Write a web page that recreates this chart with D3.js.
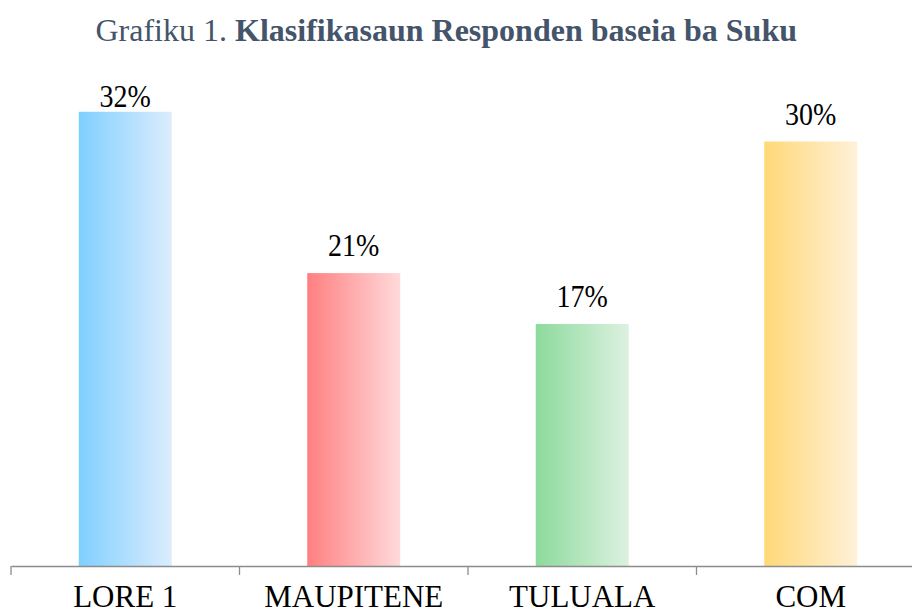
<!DOCTYPE html>
<html><head><meta charset="utf-8">
<script src="https://cdn.jsdelivr.net/npm/d3@7"></script>
<style>html,body{margin:0;padding:0;background:#fff;}svg{display:block;}</style>
</head><body>
<script>
const categories = ["LORE 1", "MAUPITENE", "TULUALA", "COM"];
const values = [32.1, 20.7, 17.1, 30.0];
const valueLabels = ["32%", "21%", "17%", "30%"];
const gradientStops = [["#80cfff", "#dcedfc"], ["#ff7f80", "#ffdadb"], ["#8cda9c", "#ddf1e1"], ["#ffd877", "#fff1d9"]];
const titleNormal = "Grafiku 1. ";
const titleBold = "Klasifikasaun Responden baseia ba Suku";

const FONT = "'Liberation Serif', 'Times New Roman', Times, serif";
const W = 912, H = 614;
const svg = d3.select("body").append("svg").attr("width", W).attr("height", H);
const x = d3.scaleBand().domain(categories).range([11, 925]).paddingInner(0).paddingOuter(0);
const y = d3.scaleLinear().domain([0, 36]).range([566, 566 - 36 * 14.15]);
const plotTop = 85;

const defs = svg.append("defs");
gradientStops.forEach((g, i) => {
  const lg = defs.append("linearGradient").attr("id", "g" + i).attr("x1", "0%").attr("x2", "100%").attr("y1", "0%").attr("y2", "0%");
  lg.append("stop").attr("offset", "0%").attr("stop-color", g[0]);
  lg.append("stop").attr("offset", "100%").attr("stop-color", g[1]);
});

const t = svg.append("text").attr("x", 797).attr("y", 41).attr("text-anchor", "end")
  .style("font-family", FONT).attr("font-size", 32).attr("fill", "#44546a");
t.append("tspan").text(titleNormal);
t.append("tspan").attr("font-weight", "bold").text(titleBold);

const bw = 93;
svg.selectAll("rect.bar").data(values).join("rect").attr("class", "bar")
  .attr("x", (d, i) => x(categories[i]) + x.bandwidth() / 2 - bw / 2)
  .attr("width", bw)
  .attr("y", d => y(d)).attr("height", d => y(0) - y(d))
  .attr("fill", (d, i) => `url(#g${i})`);

svg.selectAll("text.val").data(values).join("text").attr("class", "val")
  .attr("text-anchor", "middle")
  .attr("transform", (d, i) => `translate(${x(categories[i]) + x.bandwidth() / 2},${Math.max(y(d) - 17, plotTop + 22)}) scale(1,1.12)`)
  .style("font-family", FONT).attr("font-size", 28).attr("fill", "#000")
  .text((d, i) => valueLabels[i]);

const axis = d3.axisBottom(x).tickSize(0).tickFormat("");
const ag = svg.append("g").attr("transform", "translate(0,566)").call(axis);
ag.select(".domain").attr("stroke", "#8c8c8c").attr("stroke-width", 1.3);
const bounds = categories.map(c => x(c)).concat([x.range()[1]]);
ag.selectAll("line.b").data(bounds).join("line").attr("class", "b")
  .attr("x1", d => d).attr("x2", d => d).attr("y1", 0).attr("y2", 9)
  .attr("stroke", "#8c8c8c").attr("stroke-width", 1.3);
ag.selectAll("text.cat").data(categories).join("text").attr("class", "cat")
  .attr("x", d => x(d) + x.bandwidth() / 2).attr("y", 41)
  .attr("text-anchor", "middle")
  .style("font-family", FONT).attr("font-size", 31).attr("fill", "#000")
  .text(d => d);
</script>
</body></html>
